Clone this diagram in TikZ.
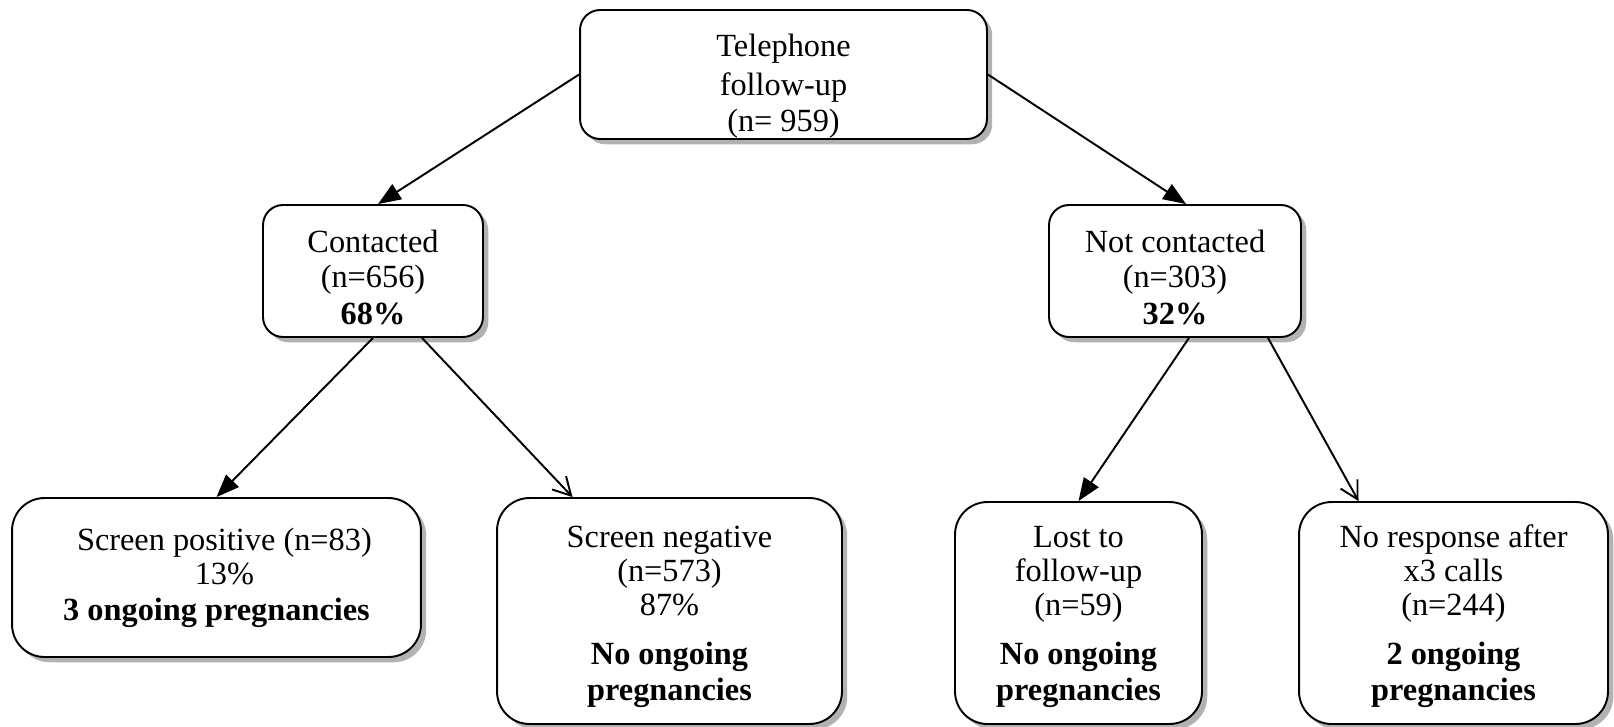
\documentclass[tikz,border=0pt]{standalone}
\usepackage{fontspec}
\setmainfont{Liberation Serif}
\usetikzlibrary{calc}
\usetikzlibrary{shadows}
\usetikzlibrary{arrows.meta}
% text block of a box, moved down by #1 below the centre
\newcommand\boxtext[2]{\raisebox{\dimexpr-4.6pt-#1\relax}[0pt][0pt]{%
    \begin{tabular}{@{}c@{}}#2\end{tabular}}}

\begin{document}
\begin{tikzpicture}[
        x=0.02cm, y=-0.02cm,
        X/.style={draw, line width=1.1pt, rounded corners=0.4cm, fill=white,
            inner sep=0pt,
            drop shadow={shadow xshift=3pt, shadow yshift=-3pt, fill=black, opacity=0.3},
            font=\fontsize{18.4}{19.5}\selectfont},
        L/.style={X, rounded corners=0.65cm},
        F/.style={line width=1.1pt, -{Triangle[length=13pt, width=10pt]}},
        O/.style={line width=1.1pt, -{Straight Barb[length=10pt, width=11pt]}}
    ]
    \useasboundingbox (0,0) rectangle (1614,727);

    \node[X, minimum width=8.14cm, minimum height=2.58cm] (tel) at (783.5,74.5)
        {\boxtext{7pt}{Telephone\\[3pt]follow-up\\[1pt](n= 959)}};
    \node[X, minimum width=4.4cm, minimum height=2.64cm] (con) at (373,271)
        {\boxtext{6pt}{Contacted\\ (n=656)\\[2pt]\textbf{68\%}}};
    \node[X, minimum width=5.04cm, minimum height=2.64cm] (ncon) at (1175,271)
        {\boxtext{6pt}{Not contacted\\(n=303)\\[2pt]\textbf{32\%}}};

    \node[L, minimum width=8.18cm, minimum height=3.18cm] (pos) at (216.5,577.5)
        {\boxtext{0.5pt}{\hspace*{9pt}Screen positive (n=83)\\\hspace*{9pt}13\%\\[1pt]\textbf{3 ongoing pregnancies}}};
    \node[L, minimum width=6.9cm, minimum height=4.52cm] (neg) at (669.5,611)
        {\boxtext{3pt}{Screen negative\\(n=573)\\87\%\\[8pt]\textbf{No ongoing}\\[1pt]\textbf{pregnancies}}};
    \node[L, minimum width=4.94cm, minimum height=4.44cm] (lost) at (1078.5,613)
        {\boxtext{2pt}{Lost to\\follow-up\\(n=59)\\[8pt]\textbf{No ongoing}\\[1pt]\textbf{pregnancies}}};
    \node[L, minimum width=6.18cm, minimum height=4.44cm] (nresp) at (1453.5,613)
        {\boxtext{2pt}{No response after\\x3 calls\\(n=244)\\[8pt]\textbf{2 ongoing}\\[1pt]\textbf{pregnancies}}};

    % connectors
    \draw[F] (tel.west) -- ($(con.north)+(5,0)$);
    \draw[F] (tel.east) -- ($(ncon.north)+(11,0)$);
    \draw[F] (con.south) -- (pos.north);
    \draw[O] ($(con.south)+(49,0)$) -- ($(neg.north)+(-97,0)$);
    \draw[F] ($(ncon.south)+(14,0)$) -- (lost.north);
    \draw[O] ($(ncon.south)+(93,0)$) -- ($(nresp.north)+(-95,0)$);
\end{tikzpicture}
\end{document}
